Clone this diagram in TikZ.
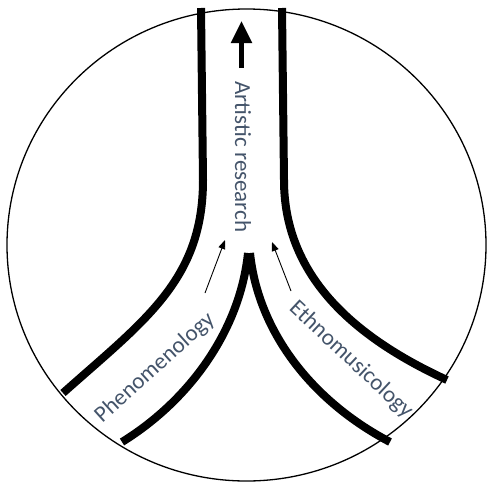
\documentclass[tikz,border=0pt]{standalone}
\usepackage{fontspec}
\setmainfont{Carlito}
\usetikzlibrary{arrows.meta}
\definecolor{textblue}{HTML}{44546A}
\begin{document}
\begin{tikzpicture}[x=1pt, y=-1pt,
    wall/.style={line width=8pt, line cap=butt},
    field/.style={font=\fontsize{23}{23}\selectfont, text=textblue, inner sep=0pt},
    flow/.style={line width=0.9pt, -{Triangle[length=9pt, width=7pt]}}]
  \useasboundingbox (0,0) rectangle (487,482);
  % outer circle
  \draw[line width=1.3pt] (246.5,245) ellipse [x radius=239.5, y radius=236];
  % channel walls
  \draw[wall] (201,8) -- (203,180) .. controls (203,280) and (145,320) .. (63,393);
  \draw[wall] (282,8) -- (284,180) .. controls (284,280) and (360,340) .. (447,380);
  \draw[wall] (248,253) .. controls (240,330) and (190,400) .. (122,442);
  \draw[wall] (250,253) .. controls (258,330) and (310,400) .. (390,442);
  % labels
  \node[field, rotate=-90] (artres) at (243,157) {Artistic research};
  \node[field, rotate=42] (phen) at (155,368) {Phenomenology};
  \node[field, rotate=-43] (ethno) at (351,360) {Ethnomusicology};
  % arrows
  \coordinate (up0) at (241.5,68);
  \coordinate (up1) at (241.5,21);
  \draw[line width=5pt, -{Triangle[length=22pt, width=20pt]}] (up0) -- (up1);
  \coordinate (pa) at (205,293);
  \coordinate (pb) at (225,240);
  \coordinate (ea) at (291,291);
  \coordinate (eb) at (272,242);
  \draw[flow] (pa) -- (pb);
  \draw[flow] (ea) -- (eb);
\end{tikzpicture}
\end{document}
